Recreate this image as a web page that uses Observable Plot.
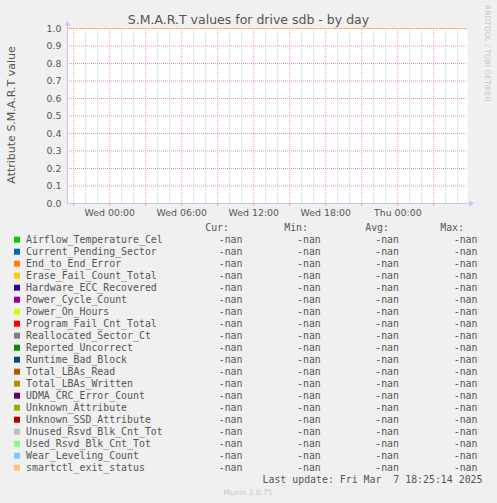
<!DOCTYPE html>
<html><head><meta charset="utf-8">
<script src="https://cdn.jsdelivr.net/npm/d3@7"></script>
<script src="https://cdn.jsdelivr.net/npm/@observablehq/plot@0.6"></script>
<style>
body{margin:0;background:#f0f0f0;}
#wrap{position:relative;width:497px;height:503px;background:#f0f0f0;overflow:hidden;}
#wrap > svg, #wrap > figure{position:absolute;left:0;top:0;margin:0;}
</style></head><body><div id="wrap"></div>
<script>
const titleText = "S.M.A.R.T values for drive sdb - by day";
const yLabelText = "Attribute S.M.A.R.T value";
const sideText = "RRDTOOL / TOBI OETIKER";
const lastUpdateText = "Last update: Fri Mar  7 18:25:14 2025";
const footerText = "Munin 2.0.75";

const seriesNames = [
  "Airflow_Temperature_Cel","Current_Pending_Sector","End_to_End_Error","Erase_Fail_Count_Total",
  "Hardware_ECC_Recovered","Power_Cycle_Count","Power_On_Hours","Program_Fail_Cnt_Total",
  "Reallocated_Sector_Ct","Reported_Uncorrect","Runtime_Bad_Block","Total_LBAs_Read",
  "Total_LBAs_Written","UDMA_CRC_Error_Count","Unknown_Attribute","Unknown_SSD_Attribute",
  "Unused_Rsvd_Blk_Cnt_Tot","Used_Rsvd_Blk_Cnt_Tot","Wear_Leveling_Count","smartctl_exit_status"
];
const seriesColors = [
  "#00CC00","#0066B3","#FF8000","#FFCC00","#330099","#990099","#CCFF00","#FF0000",
  "#808080","#008F00","#00487D","#B35A00","#B38F00","#6B006B","#8FB300","#B30000",
  "#BEBEBE","#80FF80","#80C9FF","#FFC080"
];
const statHeaders = ["Cur:","Min:","Avg:","Max:"];
const curValues = ["-nan","-nan","-nan","-nan","-nan","-nan","-nan","-nan","-nan","-nan","-nan","-nan","-nan","-nan","-nan","-nan","-nan","-nan","-nan","-nan"];
const minValues = ["-nan","-nan","-nan","-nan","-nan","-nan","-nan","-nan","-nan","-nan","-nan","-nan","-nan","-nan","-nan","-nan","-nan","-nan","-nan","-nan"];
const avgValues = ["-nan","-nan","-nan","-nan","-nan","-nan","-nan","-nan","-nan","-nan","-nan","-nan","-nan","-nan","-nan","-nan","-nan","-nan","-nan","-nan"];
const maxValues = ["-nan","-nan","-nan","-nan","-nan","-nan","-nan","-nan","-nan","-nan","-nan","-nan","-nan","-nan","-nan","-nan","-nan","-nan","-nan","-nan"];

const xDomain = [new Date("2025-03-04T20:28:30Z"), new Date("2025-03-06T05:48:30Z")];
const xLabelTicks = ["2025-03-05T00:00:00Z","2025-03-05T06:00:00Z","2025-03-05T12:00:00Z","2025-03-05T18:00:00Z","2025-03-06T00:00:00Z"].map(s => new Date(s));
const yTicks = [0.0,0.1,0.2,0.3,0.4,0.5,0.6,0.7,0.8,0.9,1.0];
const limitValue = [1.0];

const majorTicks = d3.utcHour.every(3).range(xDomain[0], xDomain[1]);
const minorTicks = d3.utcHour.range(xDomain[0], xDomain[1]).filter(d => d.getUTCHours() % 3 !== 0);

const axisColor = "#c4c4f0";
const majorColor = "#e49a9a";
const minorColor = "#c8c8c8";
const textColor = "#555";

const upArrow = {draw(c){ c.moveTo(0,-2.7); c.lineTo(2.7,2.3); c.lineTo(-2.7,2.3); c.closePath(); }};
const rightArrow = {draw(c){ c.moveTo(2.7,0); c.lineTo(-2.2,-3); c.lineTo(-2.2,3); c.closePath(); }};

const chart = Plot.plot({
  width: 497, height: 220,
  marginLeft: 67, marginRight: 30, marginTop: 28, marginBottom: 17,
  style: {background: "transparent", fontFamily: "'DejaVu Sans'", fontSize: "9.4px", color: textColor, overflow: "visible"},
  x: {type: "utc", domain: xDomain, label: null},
  y: {domain: [0, 1], label: null},
  marks: [
    Plot.frame({fill: "white", stroke: null}),
    Plot.ruleX(minorTicks, {y1: 0, y2: 1, stroke: minorColor, strokeDasharray: "1,1"}),
    Plot.ruleY(yTicks.filter(d => d > 0), {stroke: majorColor, strokeDasharray: "1,1"}),
    Plot.ruleX(majorTicks, {y1: 0, y2: 1, stroke: majorColor, strokeDasharray: "1,1"}),
    Plot.axisX({ticks: majorTicks, tickSize: 3, tickFormat: () => "", stroke: majorColor, label: null}),
    Plot.axisX({ticks: xLabelTicks, tickSize: 0, tickPadding: 6, tickFormat: d3.utcFormat("%a %H:%M"), fill: textColor, label: null}),
    Plot.axisY({ticks: yTicks, tickSize: 0, tickPadding: 6, tickFormat: d3.format(".1f"), fill: textColor, label: null}),
    Plot.ruleY(limitValue, {stroke: "#ffb060", strokeDasharray: "6,2,2,2"}),
    Plot.ruleY([0], {stroke: axisColor, insetRight: -2}),
    Plot.ruleX([xDomain[0]], {stroke: axisColor, insetTop: -3}),
    Plot.dot([{x: xDomain[0], y: 1}], {x: "x", y: "y", symbol: upArrow, fill: axisColor, stroke: null, dy: -5}),
    Plot.dot([{x: xDomain[1], y: 0}], {x: "x", y: "y", symbol: rightArrow, fill: axisColor, stroke: null, dx: 4})
  ]
});
document.getElementById("wrap").appendChild(chart);

const svg = d3.select("#wrap").append("svg").attr("width", 497).attr("height", 503).style("pointer-events", "none");
svg.append("text").attr("x", 248.5).attr("y", 24).attr("text-anchor", "middle")
  .style("font", "12.5px 'DejaVu Sans'").attr("fill", textColor).text(titleText);
svg.append("text").attr("transform", "translate(15,115) rotate(-90)").attr("text-anchor", "middle")
  .style("font", "11px 'DejaVu Sans'").attr("fill", textColor).text(yLabelText);
svg.append("text").attr("transform", "translate(485,5) rotate(90)").attr("text-anchor", "start")
  .style("font", "7.5px 'DejaVu Sans'").attr("fill", "#c8c8c8").text(sideText);

const mono = "9.9px 'DejaVu Sans Mono'";
const headerX = [229, 308, 389, 464];
const valueX = [242.5, 320.8, 399, 477.5];
statHeaders.forEach((h, j) => {
  svg.append("text").attr("x", headerX[j]).attr("y", 231).attr("text-anchor", "end")
    .style("font", mono).attr("fill", textColor).text(h);
});
const cols = [curValues, minValues, avgValues, maxValues];
seriesNames.forEach((name, i) => {
  const y = 243 + 12 * i;
  svg.append("rect").attr("x", 14).attr("y", y - 6.3).attr("width", 6).attr("height", 6).attr("fill", seriesColors[i]);
  svg.append("text").attr("x", 26).attr("y", y).style("font", mono).attr("fill", textColor).text(name);
  cols.forEach((col, j) => {
    svg.append("text").attr("x", valueX[j]).attr("y", y).attr("text-anchor", "end")
      .style("font", mono).attr("fill", textColor).text(col[i]);
  });
});
svg.append("text").attr("x", 482.5).attr("y", 483).attr("text-anchor", "end")
  .style("font", mono).style("white-space", "pre").attr("xml:space", "preserve").attr("fill", textColor).text(lastUpdateText);
svg.append("text").attr("x", 248).attr("y", 495).attr("text-anchor", "middle")
  .style("font", "7.5px 'DejaVu Sans'").attr("fill", "#c8c8c8").text(footerText);
</script></body></html>
